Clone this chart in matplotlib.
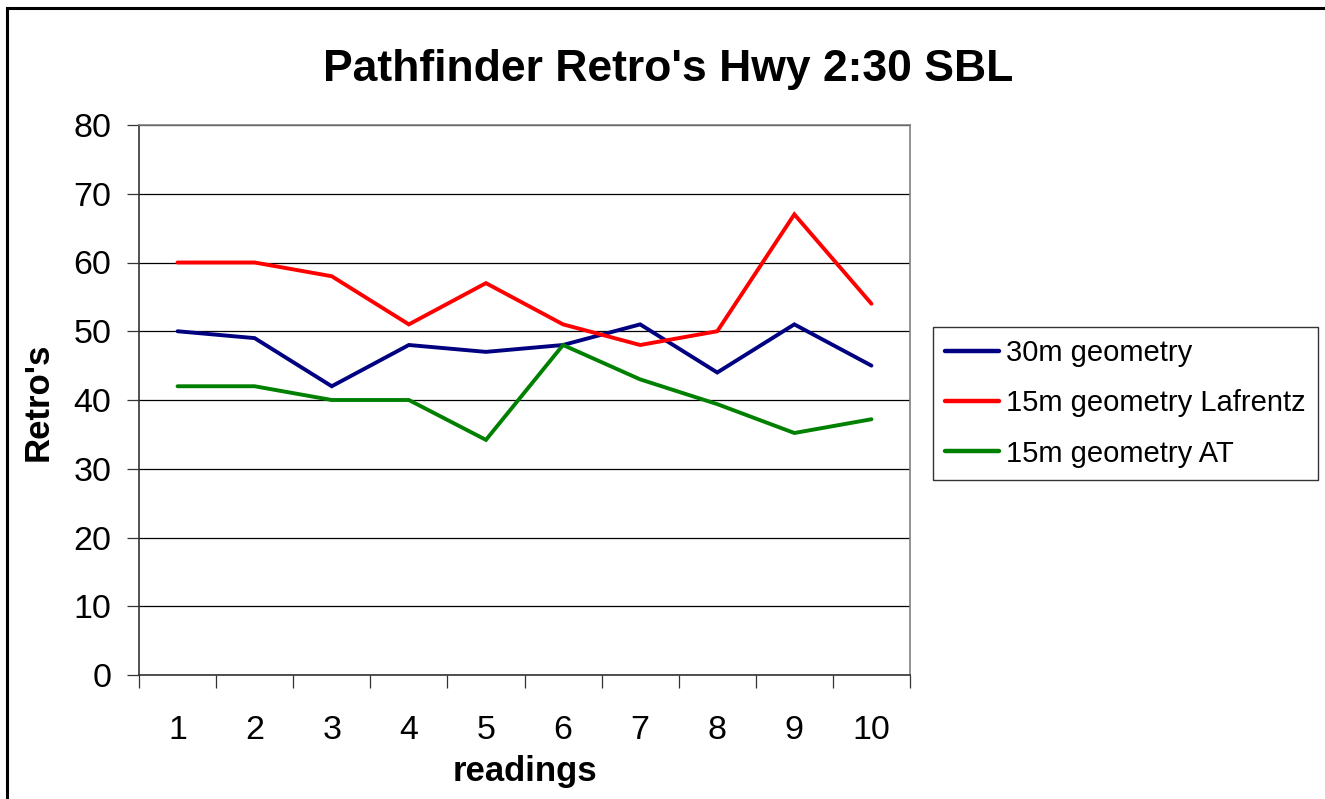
import matplotlib
matplotlib.use("Agg")
import matplotlib.pyplot as plt
from matplotlib.patches import Rectangle

readings = [1, 2, 3, 4, 5, 6, 7, 8, 9, 10]
geom_30m = [50, 49, 42, 48, 47, 48, 51, 44, 51, 45]
geom_15m_lafrentz = [60, 60, 58, 51, 57, 51, 48, 50, 67, 54]
geom_15m_at = [42, 42, 40, 40, 34.2, 48, 43, 39.4, 35.2, 37.2]
series_names = ["30m geometry", "15m geometry Lafrentz", "15m geometry AT"]
y_ticks = [0, 10, 20, 30, 40, 50, 60, 70, 80]

plt.rcParams['font.family'] = ['Liberation Sans', 'DejaVu Sans']

W, H = 1325, 799
fig = plt.figure(figsize=(W / 100, H / 100), dpi=100)
fig.patch.set_facecolor('white')

# outer chart frame
fig.patches.append(Rectangle((7 / W, -0.05), 1.1, 1 - 8 / H + 0.05, transform=fig.transFigure,
                             fill=False, edgecolor='black', linewidth=2.2, zorder=0))

left, right, top, bottom = 139, 910, 125, 675
ax = fig.add_axes([left / W, 1 - bottom / H, (right - left) / W, (bottom - top) / H])

colors = ['#000080', '#FF0000', '#008000']
for vals, name, c in zip([geom_30m, geom_15m_lafrentz, geom_15m_at], series_names, colors):
    ax.plot(readings, vals, color=c, linewidth=2.8, label=name, solid_capstyle='round',
            solid_joinstyle='miter', zorder=3)

ax.set_xlim(0.5, 10.5)
ax.set_ylim(0, 80)
ax.set_yticks(y_ticks)
ax.set_yticklabels([str(t) for t in y_ticks], fontsize=24.5)
ax.yaxis.grid(True, color='black', linewidth=0.9)
ax.set_axisbelow(True)

# x ticks: marks at category boundaries, labels at centers
ax.set_xticks([i + 0.5 for i in range(0, 11)])
ax.set_xticklabels([])
ax.set_xticks(readings, minor=True)
ax.set_xticklabels([str(r) for r in readings], minor=True, fontsize=24.5)
ax.tick_params(axis='x', which='minor', length=0, pad=29)
ax.tick_params(axis='x', which='major', length=9, width=0.9, color='#333333', direction='out')
ax.tick_params(axis='y', length=9, width=0.9, color='#333333', direction='out', pad=11)

for side in ['top', 'right']:
    ax.spines[side].set_color('#808080')
    ax.spines[side].set_linewidth(1.2)
for side in ['left', 'bottom']:
    ax.spines[side].set_color('#333333')
    ax.spines[side].set_linewidth(1.2)

fig.text(525 / W, 1 - 771 / H, "readings", fontsize=25, fontweight='bold',
         ha='center', va='center')
fig.text(38 / W, 1 - 402 / H, "Retro's", fontsize=25, fontweight='bold',
         ha='center', va='center', rotation=90)

fig.text(668 / W, 1 - 70 / H, "Pathfinder Retro's Hwy 2:30 SBL", fontsize=32,
         fontweight='bold', ha='center', va='center')

leg = fig.legend(loc='upper left', bbox_to_anchor=(933 / W, 1 - 327 / H), fontsize=21,
                 frameon=True, fancybox=False, edgecolor='black', borderpad=0.42,
                 handlelength=1.85, handletextpad=0.25, labelspacing=0.76, borderaxespad=0)
leg.get_frame().set_linewidth(1.0)
for line in leg.get_lines():
    line.set_linewidth(3.2)

fig.savefig("out.png", dpi=100, facecolor='white')
